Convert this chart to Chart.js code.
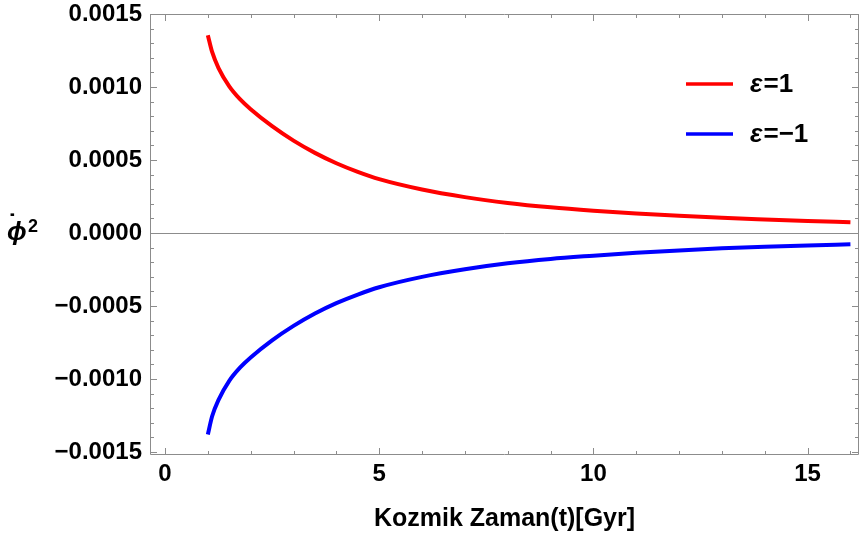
<!DOCTYPE html>
<html>
<head>
<meta charset="utf-8">
<script src="https://cdn.jsdelivr.net/npm/chart.js@4.4.1/dist/chart.umd.min.js"></script>
<style>
  html, body { margin: 0; padding: 0; background: #ffffff; }
  #wrap { width: 860px; height: 535px; }
</style>
</head>
<body>
<div id="wrap"><canvas id="myChart" width="860" height="535"></canvas></div>
<script>
// valores
const tiempos = [1, 1.1, 1.25, 1.5, 1.75, 2, 2.5, 3, 3.5, 4, 4.5, 5, 6, 7, 8, 9, 10, 11, 12, 13, 14, 15, 16];
const phiPos = [0.001355, 0.00124, 0.00113, 0.001005, 0.000917, 0.000848, 0.000732, 0.000633, 0.000549, 0.000478, 0.000419, 0.000369,
                0.000298, 0.000246, 0.000206, 0.000176, 0.000153, 0.000134, 0.000118, 0.000104, 0.000093, 0.000083, 0.000074];
const phiNeg = [-0.00138, -0.001255, -0.001142, -0.001012, -0.000922, -0.000852, -0.000735, -0.000636, -0.000551, -0.000480, -0.000421, -0.000371,
                -0.000300, -0.000248, -0.000207, -0.000177, -0.000155, -0.000135, -0.000119, -0.000105, -0.000094, -0.000085, -0.000077];
const etiquetas = ['ε=1', 'ε=−1'];
const colores = ['#ff0000', '#0000ff'];
const xTicks = [0, 5, 10, 15];
const yTicks = [-0.0015, -0.0010, -0.0005, 0, 0.0005, 0.0010, 0.0015];

const FONT = 'Liberation Sans, Arial, sans-serif';
const FRAME = '#8c8c8c';

function puntos(ys) {
    let data = [];
    for (let i = 0; i < tiempos.length; i++) {
        data.push({ x: tiempos[i], y: ys[i] });
    }
    return data;
}

// marco con marcas hacia adentro (estilo Mathematica)
const marco = {
    id: 'marco',
    afterDraw(chart) {
        const { ctx, chartArea: a, scales: { x, y } } = chart;
        ctx.save();
        ctx.strokeStyle = FRAME;
        ctx.lineWidth = 1;
        ctx.beginPath();
        ctx.rect(a.left + 0.5, a.top + 0.5, a.right - a.left - 1, a.bottom - a.top - 1);
        ctx.stroke();
        ctx.beginPath();
        for (let i = 0; i <= 16; i++) {
            const px = Math.round(x.getPixelForValue(i)) + 0.5;
            const len = i % 5 === 0 ? 7 : 4;
            ctx.moveTo(px, a.bottom); ctx.lineTo(px, a.bottom - len);
            ctx.moveTo(px, a.top); ctx.lineTo(px, a.top + len);
        }
        for (let k = -15; k <= 15; k++) {
            const py = Math.round(y.getPixelForValue(k / 10000)) + 0.5;
            const len = k % 5 === 0 ? 7 : 4;
            ctx.moveTo(a.left, py); ctx.lineTo(a.left + len, py);
            ctx.moveTo(a.right, py); ctx.lineTo(a.right - len, py);
        }
        ctx.stroke();

        // leyenda dentro del area
        const filas = [84, 134];
        chart.data.datasets.forEach((ds, i) => {
            const yy = filas[i];
            ctx.strokeStyle = ds.borderColor;
            ctx.lineWidth = 3.5;
            ctx.beginPath();
            ctx.moveTo(686, yy); ctx.lineTo(733, yy);
            ctx.stroke();
            ctx.fillStyle = '#000';
            ctx.textBaseline = 'middle';
            ctx.font = 'italic bold 26px ' + FONT;
            ctx.fillText('ε', 750, yy + 1);
            const w = ctx.measureText('ε').width;
            ctx.font = 'bold 26px ' + FONT;
            ctx.fillText(ds.label.slice(1), 750 + w + 1, yy + 1);
        });

        // titulo del eje y
        ctx.fillStyle = '#000';
        ctx.textBaseline = 'alphabetic';
        ctx.font = 'italic bold 26px ' + FONT;
        ctx.fillText('ϕ', 7, 240);
        ctx.font = 'bold 26px ' + FONT;
        ctx.fillText('˙', 8, 232);
        ctx.font = 'bold 18px ' + FONT;
        ctx.fillText('2', 28, 232);
        ctx.restore();
    }
};

let ctx = document.getElementById('myChart').getContext('2d');
let myChart = new Chart(ctx, {
    type: 'line',
    data: {
        datasets: [
            {
                label: etiquetas[0],
                data: puntos(phiPos),
                borderColor: colores[0],
                borderWidth: 4,
                pointRadius: 0,
                fill: false,
                cubicInterpolationMode: 'monotone'
            },
            {
                label: etiquetas[1],
                data: puntos(phiNeg),
                borderColor: colores[1],
                borderWidth: 4,
                pointRadius: 0,
                fill: false,
                cubicInterpolationMode: 'monotone'
            }
        ]
    },
    options: {
        responsive: false,
        animation: false,
        layout: { padding: { top: 14, right: 1, left: 0, bottom: 0 } },
        plugins: {
            legend: { display: false },
            tooltip: { enabled: false }
        },
        scales: {
            x: {
                type: 'linear',
                min: -0.35,
                max: 16.2,
                afterBuildTicks: (s) => { s.ticks = xTicks.map(v => ({ value: v })); },
                afterFit: (s) => { s.height = 80; s.paddingLeft = 0; s.paddingRight = 0; },
                border: { display: false },
                grid: { display: false, drawTicks: false },
                ticks: {
                    color: '#000',
                    padding: 5,
                    maxRotation: 0,
                    font: { family: FONT, size: 24, weight: 'bold' },
                    callback: (v) => String(v)
                },
                title: {
                    display: true,
                    text: 'Kozmik Zaman(t)[Gyr]',
                    color: '#000',
                    padding: { top: 0, bottom: 1 },
                    font: { family: FONT, size: 25, weight: 'bold' }
                }
            },
            y: {
                type: 'linear',
                min: -0.00152,
                max: 0.0015,
                afterBuildTicks: (s) => { s.ticks = yTicks.map(v => ({ value: v })); },
                afterFit: (s) => { s.width = 150; s.paddingTop = 0; s.paddingBottom = 0; },
                border: { display: false },
                grid: {
                    drawTicks: false,
                    lineWidth: 1,
                    color: (c) => (c.tick && c.tick.value === 0) ? FRAME : 'rgba(0,0,0,0)'
                },
                ticks: {
                    color: '#000',
                    padding: 8,
                    font: { family: FONT, size: 24, weight: 'bold' },
                    callback: (v) => (v < 0 ? '−' : '') + Math.abs(v).toFixed(4)
                }
            }
        }
    },
    plugins: [marco]
});
</script>
</body>
</html>
